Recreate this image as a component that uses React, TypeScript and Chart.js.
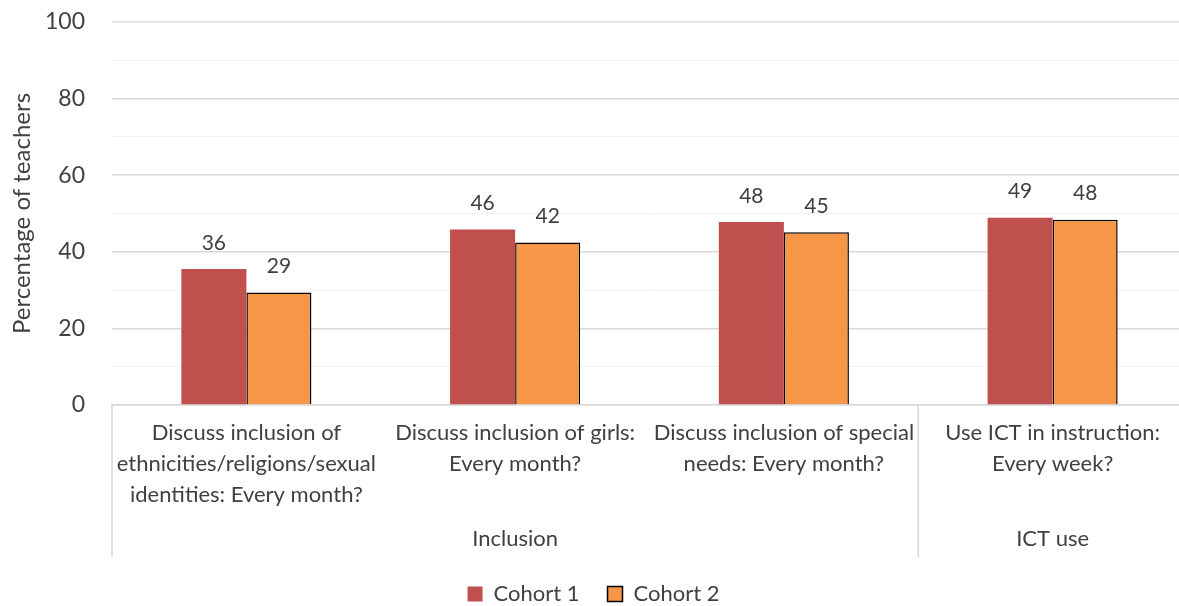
import React, { useEffect, useRef } from "react";
import { Chart, registerables } from "chart.js";

Chart.register(...registerables);

const categories: string[][] = [
  ["Discuss inclusion of", "ethnicities/religions/sexual", "identities: Every month?"],
  ["Discuss inclusion of girls:", "Every month?"],
  ["Discuss inclusion of special", "needs: Every month?"],
  ["Use ICT in instruction:", "Every week?"],
];
const groupLabels = ["Inclusion", "ICT use"];
const groupSpans = [3, 1];
const cohort1 = [35.5, 45.8, 47.8, 48.9];
const cohort2 = [29.4, 42.4, 45.1, 48.4];
const seriesNames = ["Cohort 1", "Cohort 2"];
const yTicks = [0, 20, 40, 60, 80, 100];

const FONT = "Lato, 'Open Sans', sans-serif";
const TEXT = "#404040";
const GRID_MAJOR = "#d9d9d9";
const GRID_MINOR = "#f2f2f2";

const extrasPlugin = {
  id: "extras",
  afterDatasetsDraw(chart: any) {
    const ctx = chart.ctx;
    ctx.save();
    ctx.fillStyle = TEXT;
    ctx.font = `21px ${FONT}`;
    ctx.textAlign = "center";
    ctx.textBaseline = "middle";
    chart.data.datasets.forEach((ds: any, di: number) => {
      const meta = chart.getDatasetMeta(di);
      meta.data.forEach((bar: any, i: number) => {
        ctx.fillText(String(Math.round(ds.data[i])), bar.x, bar.y - 26);
      });
    });
    // group labels and dividers
    const x = chart.scales.x;
    const n = chart.data.labels.length;
    const cw = x.width / n;
    const top = x.top;
    ctx.strokeStyle = GRID_MAJOR;
    ctx.lineWidth = 1.5;
    let start = 0;
    const drawDivider = (px: number) => {
      ctx.beginPath();
      ctx.moveTo(px, top);
      ctx.lineTo(px, top + 152);
      ctx.stroke();
    };
    drawDivider(x.getPixelForValue(0) - cw / 2);
    ctx.font = `22px ${FONT}`;
    groupLabels.forEach((g, gi) => {
      const end = start + groupSpans[gi] - 1;
      const left = x.getPixelForValue(start) - cw / 2;
      const right = x.getPixelForValue(end) + cw / 2;
      ctx.fillText(g, (left + right) / 2, top + 134);
      drawDivider(right);
      start = end + 1;
    });
    ctx.restore();
  },
};

export default function App() {
  const ref = useRef<HTMLCanvasElement>(null);
  useEffect(() => {
    if (!ref.current) return;
    const chart = new Chart(ref.current, {
      type: "bar",
      data: {
        labels: categories as any,
        datasets: [
          {
            label: seriesNames[0],
            data: cohort1,
            backgroundColor: "#C0504D",
            borderWidth: 0,
          },
          {
            label: seriesNames[1],
            data: cohort2,
            backgroundColor: "#F79646",
            borderColor: "#000000",
            borderWidth: 1.5,
          },
        ],
      },
      options: {
        responsive: false,
        animation: false,
        devicePixelRatio: 1,
        layout: { padding: { top: 22, right: 8, left: 0, bottom: 0 } },
        datasets: { bar: { barPercentage: 1, categoryPercentage: 0.484 } },
        plugins: {
          legend: {
            position: "bottom",
            labels: {
              boxWidth: 15,
              boxHeight: 15,
              padding: 28,
              color: TEXT,
              font: { family: FONT, size: 22 },
            },
          },
          tooltip: { enabled: false },
        },
        scales: {
          x: {
            grid: { display: false, drawTicks: false },
            border: { display: true, color: GRID_MAJOR, width: 1.5 },
            ticks: {
              color: TEXT,
              font: { family: FONT, size: 22, lineHeight: 1.41 },
              padding: 12,
              maxRotation: 0,
              minRotation: 0,
              autoSkip: false,
            },
            afterFit: (s: any) => {
              s.height = 150;
            },
          },
          y: {
            min: 0,
            max: 100,
            grid: {
              drawTicks: false,
              lineWidth: (c: any) => (c.tick && c.tick.value % 20 === 0 ? 1.5 : 1),
              color: (c: any) => (c.tick && c.tick.value % 20 === 0 ? GRID_MAJOR : GRID_MINOR),
            },
            border: { display: false },
            ticks: {
              stepSize: 10,
              autoSkip: false,
              padding: 27,
              color: TEXT,
              font: { family: FONT, size: 23 },
              callback: (v: any) => (yTicks.includes(Number(v)) ? String(v) : ""),
            },
            title: {
              display: true,
              text: "Percentage of teachers",
              color: TEXT,
              font: { family: FONT, size: 24 },
              padding: { top: 8, bottom: 0 },
            },
            afterFit: (s: any) => {
              s.width = 112;
              s.paddingTop = 0;
              s.paddingBottom = 0;
            },
          },
        },
      },
      plugins: [extrasPlugin],
    });
    return () => chart.destroy();
  }, []);
  return (
    <div
      style={{
        position: "fixed",
        left: 0,
        top: 0,
        width: 1179,
        height: 606,
        overflow: "hidden",
        background: "#fff",
      }}
    >
      <canvas ref={ref} width={1195} height={615} style={{ display: "block" }} />
    </div>
  );
}
